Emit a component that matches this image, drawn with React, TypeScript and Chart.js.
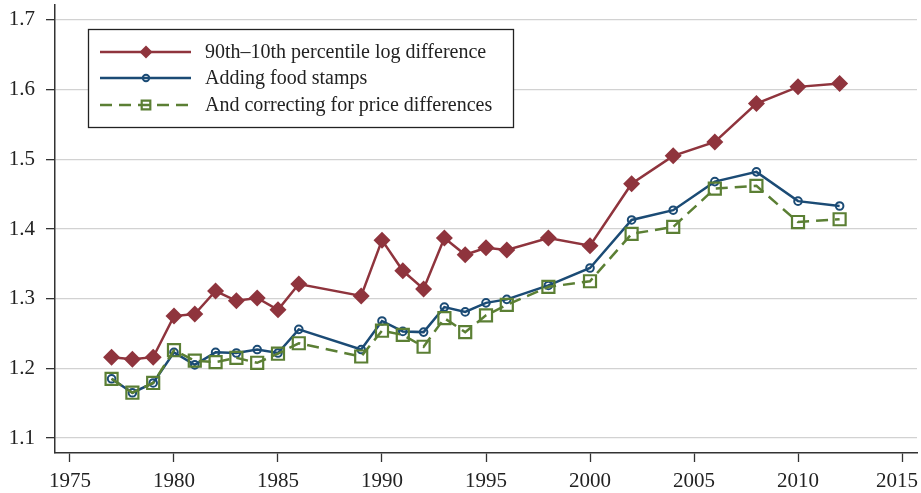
import React, { useEffect, useRef } from 'react';
import { Chart, registerables } from 'chart.js';

Chart.register(...registerables);

const years = [1977, 1978, 1979, 1980, 1981, 1982, 1983, 1984, 1985, 1986, 1989, 1990, 1991, 1992, 1993, 1994, 1995, 1996, 1998, 2000, 2002, 2004, 2006, 2008, 2010, 2012];
const percentileGap = [1.216, 1.213, 1.216, 1.275, 1.278, 1.311, 1.297, 1.301, 1.284, 1.321, 1.304, 1.384, 1.340, 1.314, 1.387, 1.363, 1.373, 1.370, 1.387, 1.376, 1.465, 1.505, 1.525, 1.580, 1.604, 1.609];
const withFoodStamps = [1.185, 1.165, 1.179, 1.223, 1.205, 1.223, 1.222, 1.227, 1.222, 1.256, 1.227, 1.268, 1.253, 1.252, 1.288, 1.281, 1.294, 1.299, 1.319, 1.344, 1.413, 1.427, 1.468, 1.482, 1.440, 1.433];
const priceCorrected = [1.185, 1.165, 1.179, 1.226, 1.211, 1.209, 1.215, 1.208, 1.221, 1.236, 1.217, 1.254, 1.248, 1.231, 1.272, 1.252, 1.276, 1.291, 1.317, 1.325, 1.393, 1.403, 1.458, 1.462, 1.410, 1.414];
const yTicks = [1.1, 1.2, 1.3, 1.4, 1.5, 1.6, 1.7];
const xTicks = [1975, 1980, 1985, 1990, 1995, 2000, 2005, 2010, 2015];
const legendLabels = [
  '90th\u201310th percentile log difference',
  'Adding food stamps',
  'And correcting for price differences',
];

const RED = '#8f343d';
const BLUE = '#1b4b75';
const GREEN = '#5b7f34';
const FONT = "'Liberation Serif', 'Times New Roman', serif";

function drawMarker(ctx: CanvasRenderingContext2D, kind: string, x: number, y: number, r: number, color: string) {
  ctx.save();
  ctx.strokeStyle = color;
  ctx.fillStyle = color;
  ctx.setLineDash([]);
  ctx.beginPath();
  if (kind === 'diamond') {
    ctx.moveTo(x - r, y);
    ctx.lineTo(x, y - r);
    ctx.lineTo(x + r, y);
    ctx.lineTo(x, y + r);
    ctx.closePath();
    ctx.fill();
  } else if (kind === 'circle') {
    ctx.lineWidth = 2;
    ctx.arc(x, y, r, 0, Math.PI * 2);
    ctx.stroke();
  } else {
    ctx.lineWidth = 2.2;
    ctx.rect(x - r, y - r, 2 * r, 2 * r);
    ctx.stroke();
  }
  ctx.restore();
}

const xLabelPlugin = {
  id: 'xLabels',
  afterDraw(chart: any) {
    const ctx: CanvasRenderingContext2D = chart.ctx;
    const sx = chart.scales.x;
    ctx.save();
    ctx.fillStyle = '#222';
    ctx.font = `21px ${FONT}`;
    ctx.textBaseline = 'middle';
    ctx.textAlign = 'center';
    const limit = chart.width - 3;
    xTicks.forEach((v) => {
      const label = String(v);
      const w = ctx.measureText(label).width;
      let cx = sx.getPixelForValue(v);
      if (cx + w / 2 > limit) cx = limit - w / 2;
      ctx.fillText(label, cx, sx.top + 28);
    });
    ctx.restore();
  },
};

const legendPlugin = {
  id: 'boxLegend',
  afterDraw(chart: any) {
    const ctx: CanvasRenderingContext2D = chart.ctx;
    ctx.save();
    ctx.fillStyle = '#ffffff';
    ctx.fillRect(88, 29, 425, 98);
    ctx.strokeStyle = '#222';
    ctx.lineWidth = 1.3;
    ctx.strokeRect(88.5, 29.5, 425, 98);
    const rows = [52, 78, 105];
    const colors = [RED, BLUE, GREEN];
    const kinds = ['diamond', 'circle', 'square'];
    const sizes = [6.5, 3.2, 4.3];
    rows.forEach((ry, i) => {
      ctx.save();
      ctx.strokeStyle = colors[i];
      ctx.lineWidth = 2.5;
      ctx.setLineDash(i === 2 ? [12, 7] : []);
      ctx.beginPath();
      ctx.moveTo(100, ry);
      ctx.lineTo(191, ry);
      ctx.stroke();
      ctx.restore();
      drawMarker(ctx, kinds[i], 146, ry, sizes[i], colors[i]);
      ctx.fillStyle = '#222';
      ctx.font = `20px ${FONT}`;
      ctx.textBaseline = 'middle';
      ctx.textAlign = 'left';
      ctx.fillText(legendLabels[i], 205, ry + 1);
    });
    ctx.restore();
  },
};

export default function App() {
  const ref = useRef<HTMLCanvasElement>(null);
  useEffect(() => {
    if (!ref.current) return;
    const toPts = (vals: number[]) => years.map((yr, i) => ({ x: yr, y: vals[i] }));
    const chart = new Chart(ref.current, {
      type: 'line',
      data: {
        datasets: [
          {
            label: legendLabels[0],
            data: toPts(percentileGap),
            borderColor: RED,
            backgroundColor: RED,
            borderWidth: 2.5,
            pointStyle: 'rectRot',
            pointRadius: 8.5,
            pointBorderWidth: 0,
            pointBackgroundColor: RED,
            order: 3,
          },
          {
            label: legendLabels[1],
            data: toPts(withFoodStamps),
            borderColor: BLUE,
            backgroundColor: 'rgba(0,0,0,0)',
            borderWidth: 2.5,
            pointStyle: 'circle',
            pointRadius: 3.8,
            pointBorderWidth: 2,
            pointBorderColor: BLUE,
            pointBackgroundColor: 'rgba(0,0,0,0)',
            order: 2,
          },
          {
            label: legendLabels[2],
            data: toPts(priceCorrected),
            borderColor: GREEN,
            backgroundColor: 'rgba(0,0,0,0)',
            borderWidth: 2.5,
            borderDash: [12, 7],
            pointStyle: 'rect',
            pointRadius: 8.5,
            pointBorderWidth: 2.2,
            pointBorderColor: GREEN,
            pointBackgroundColor: 'rgba(0,0,0,0)',
            order: 1,
          },
        ],
      },
      options: {
        animation: false,
        responsive: false,
        maintainAspectRatio: false,
        layout: { autoPadding: false, padding: { top: 5, right: 4, left: 0, bottom: 0 } },
        plugins: { legend: { display: false }, tooltip: { enabled: false } },
        elements: { line: { tension: 0 } },
        scales: {
          x: {
            type: 'linear',
            min: 1974.28,
            max: 2015.72,
            afterBuildTicks: (s: any) => { s.ticks = xTicks.map((v) => ({ value: v })); },
            afterFit: (s: any) => { s.height = 40; s.paddingLeft = 0; s.paddingRight = 0; },
            grid: { drawOnChartArea: false, drawTicks: true, tickLength: 9, tickColor: '#333', tickWidth: 1.3 },
            border: { display: true, color: '#333', width: 1.5 },
            ticks: { display: false, autoSkip: false },
          },
          y: {
            type: 'linear',
            min: 1.0785,
            max: 1.7215,
            afterBuildTicks: (s: any) => { s.ticks = yTicks.map((v) => ({ value: v })); },
            afterFit: (s: any) => { s.width = 55; s.paddingTop = 0; s.paddingBottom = 0; },
            grid: { color: '#d2d2d2', lineWidth: 1.3, drawTicks: true, tickLength: 9, tickColor: '#333', tickWidth: 1.3 },
            border: { display: true, color: '#333', width: 1.5 },
            ticks: {
              color: '#222',
              font: { family: FONT, size: 21 },
              padding: 11,
              autoSkip: false,
              callback: (v: any) => Number(v).toFixed(1),
            },
          },
        },
      },
      plugins: [legendPlugin, xLabelPlugin],
    });
    return () => chart.destroy();
  }, []);
  return (
    <div style={{ position: 'fixed', left: 0, top: 0, width: 921, height: 493, background: '#fff' }}>
      <canvas ref={ref} width={921} height={493} />
    </div>
  );
}
